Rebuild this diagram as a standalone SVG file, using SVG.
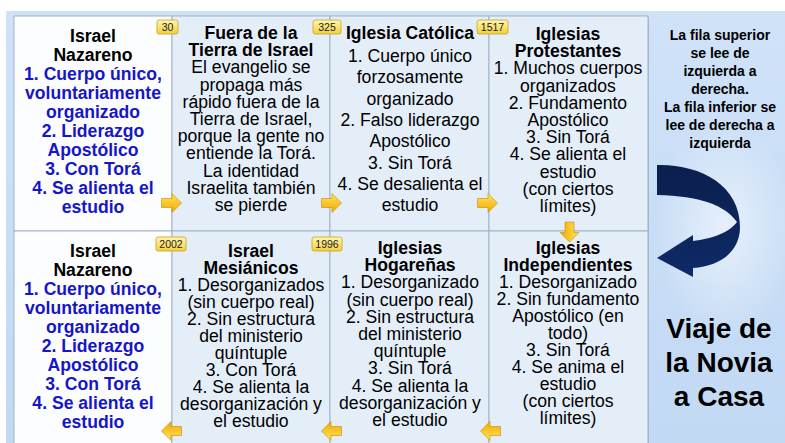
<svg xmlns="http://www.w3.org/2000/svg" width="785" height="443" viewBox="0 0 785 443">
<style>
  text { font-family: "Liberation Sans", Arial, sans-serif; text-anchor: middle; }
  .b { font-weight: bold; font-size: 17.6px; fill: #000; }
  .r { font-size: 17.6px; fill: #000; }
  .blue { font-weight: bold; font-size: 17.6px; fill: #1616c8; }
  .note { font-weight: bold; font-size: 14px; fill: #000; }
  .big { font-weight: bold; font-size: 28px; fill: #000; }
  .badge rect { fill: url(#gBadge); stroke: #c9a21a; stroke-width: 0.8; }
  .badge text { font-size: 10.5px; fill: #222; }
  .cellW { fill: #fcfdfe; stroke: #9fb1c6; stroke-width: 1; }
  .cellB { fill: #e4eef9; stroke: #9fb1c6; stroke-width: 1; }
  .arr { fill: url(#gArr); stroke: #c98c00; stroke-width: 0.6; }
</style>
<defs>
  <linearGradient id="gBg" x1="0" y1="0" x2="0" y2="1">
    <stop offset="0" stop-color="#cfe2f8"/>
    <stop offset="1" stop-color="#c2d9f4"/>
  </linearGradient>
  <radialGradient id="gGlow" cx="0.5" cy="0.5" r="0.5">
    <stop offset="0" stop-color="#ffffff" stop-opacity="0.55"/>
    <stop offset="1" stop-color="#ffffff" stop-opacity="0"/>
  </radialGradient>
  <linearGradient id="gBadge" x1="0" y1="0" x2="0" y2="1">
    <stop offset="0" stop-color="#fff7b0"/>
    <stop offset="1" stop-color="#f4cf3c"/>
  </linearGradient>
  <linearGradient id="gArr" x1="0" y1="0" x2="0" y2="1">
    <stop offset="0" stop-color="#ffe45a"/>
    <stop offset="1" stop-color="#f2a900"/>
  </linearGradient>
  <linearGradient id="gNavy" x1="0" y1="0" x2="0" y2="1">
    <stop offset="0" stop-color="#0b1f4c"/>
    <stop offset="1" stop-color="#0e2a68"/>
  </linearGradient>
  <path id="arR" class="arr" d="M -10 -4.5 H 0.5 V -9.5 L 10 0 L 0.5 9.5 V 4.5 H -10 Z"/>
</defs>

<!-- background -->
<rect x="0" y="0" width="785" height="443" fill="#ffffff"/>
<rect x="6" y="11" width="779" height="432" fill="url(#gBg)"/>
<ellipse cx="725" cy="230" rx="70" ry="110" fill="url(#gGlow)"/>
<rect x="15" y="17" width="634" height="430" fill="#a8bbd2"/>

<!-- top row cells -->
<g id="cell-top-1">
  <rect class="cellW" x="14" y="16" width="158" height="215"/>
  <text class="b" x="93" y="42">Israel</text>
  <text class="b" x="93" y="61">Nazareno</text>
  <text class="blue" x="93" y="80">1. Cuerpo único,</text>
  <text class="blue" x="93" y="99">voluntariamente</text>
  <text class="blue" x="93" y="118">organizado</text>
  <text class="blue" x="93" y="137">2. Liderazgo</text>
  <text class="blue" x="93" y="156">Apostólico</text>
  <text class="blue" x="93" y="175">3. Con Torá</text>
  <text class="blue" x="93" y="194">4. Se alienta el</text>
  <text class="blue" x="93" y="213">estudio</text>
</g>
<g id="cell-top-2">
  <rect class="cellB" x="172" y="16" width="158" height="215"/>
  <text class="b" x="251" y="39">Fuera de la</text>
  <text class="b" x="251" y="56.2">Tierra de Israel</text>
  <text class="r" x="251" y="73.4">El evangelio se</text>
  <text class="r" x="251" y="90.6">propaga más</text>
  <text class="r" x="251" y="107.8">rápido fuera de la</text>
  <text class="r" x="251" y="125">Tierra de Israel,</text>
  <text class="r" x="251" y="142.2">porque la gente no</text>
  <text class="r" x="251" y="159.4">entiende la Torá.</text>
  <text class="r" x="251" y="176.6">La identidad</text>
  <text class="r" x="251" y="193.8">Israelita también</text>
  <text class="r" x="251" y="211">se pierde</text>
</g>
<g id="cell-top-3">
  <rect class="cellB" x="330" y="16" width="159" height="215"/>
  <text class="b" x="410" y="39">Iglesia Católica</text>
  <text class="r" x="410" y="62">1. Cuerpo único</text>
  <text class="r" x="410" y="83.3">forzosamente</text>
  <text class="r" x="410" y="104.6">organizado</text>
  <text class="r" x="410" y="126">2. Falso liderazgo</text>
  <text class="r" x="410" y="147.2">Apostólico</text>
  <text class="r" x="410" y="168.5">3. Sin Torá</text>
  <text class="r" x="410" y="189.8">4. Se desalienta el</text>
  <text class="r" x="410" y="211">estudio</text>
</g>
<g id="cell-top-4">
  <rect class="cellB" x="489" y="16" width="159" height="215"/>
  <text class="b" x="568" y="40">Iglesias</text>
  <text class="b" x="568" y="57.2">Protestantes</text>
  <text class="r" x="568" y="74.4">1. Muchos cuerpos</text>
  <text class="r" x="568" y="91.6">organizados</text>
  <text class="r" x="568" y="108.8">2. Fundamento</text>
  <text class="r" x="568" y="126">Apostólico</text>
  <text class="r" x="568" y="143.2">3. Sin Torá</text>
  <text class="r" x="568" y="160.4">4. Se alienta el</text>
  <text class="r" x="568" y="177.6">estudio</text>
  <text class="r" x="568" y="194.8">(con ciertos</text>
  <text class="r" x="568" y="212">límites)</text>
</g>

<!-- bottom row cells -->
<g id="cell-bot-1">
  <rect class="cellW" x="14" y="231" width="158" height="220"/>
  <text class="b" x="93" y="257">Israel</text>
  <text class="b" x="93" y="276">Nazareno</text>
  <text class="blue" x="93" y="295">1. Cuerpo único,</text>
  <text class="blue" x="93" y="314">voluntariamente</text>
  <text class="blue" x="93" y="333">organizado</text>
  <text class="blue" x="93" y="352">2. Liderazgo</text>
  <text class="blue" x="93" y="371">Apostólico</text>
  <text class="blue" x="93" y="390">3. Con Torá</text>
  <text class="blue" x="93" y="409">4. Se alienta el</text>
  <text class="blue" x="93" y="428">estudio</text>
</g>
<g id="cell-bot-2">
  <rect class="cellB" x="172" y="231" width="158" height="220"/>
  <text class="b" x="251" y="257">Israel</text>
  <text class="b" x="251" y="274">Mesiánicos</text>
  <text class="r" x="251" y="291">1. Desorganizados</text>
  <text class="r" x="251" y="308">(sin cuerpo real)</text>
  <text class="r" x="251" y="325">2. Sin estructura</text>
  <text class="r" x="251" y="342">del ministerio</text>
  <text class="r" x="251" y="359">quíntuple</text>
  <text class="r" x="251" y="376">3. Con Torá</text>
  <text class="r" x="251" y="393">4. Se alienta la</text>
  <text class="r" x="251" y="410">desorganización y</text>
  <text class="r" x="251" y="427">el estudio</text>
</g>
<g id="cell-bot-3">
  <rect class="cellB" x="330" y="231" width="159" height="220"/>
  <text class="b" x="410" y="254">Iglesias</text>
  <text class="b" x="410" y="271.2">Hogareñas</text>
  <text class="r" x="410" y="288.4">1.  Desorganizado</text>
  <text class="r" x="410" y="305.6">(sin cuerpo real)</text>
  <text class="r" x="410" y="322.8">2. Sin estructura</text>
  <text class="r" x="410" y="340">del ministerio</text>
  <text class="r" x="410" y="357.2">quíntuple</text>
  <text class="r" x="410" y="374.4">3. Sin Torá</text>
  <text class="r" x="410" y="391.6">4. Se alienta la</text>
  <text class="r" x="410" y="408.8">desorganización y</text>
  <text class="r" x="410" y="426">el estudio</text>
</g>
<g id="cell-bot-4">
  <rect class="cellB" x="489" y="231" width="159" height="220"/>
  <text class="b" x="568" y="254">Iglesias</text>
  <text class="b" x="568" y="271">Independientes</text>
  <text class="r" x="568" y="288">1. Desorganizado</text>
  <text class="r" x="568" y="305">2. Sin fundamento</text>
  <text class="r" x="568" y="322">Apostólico (en</text>
  <text class="r" x="568" y="339">todo)</text>
  <text class="r" x="568" y="356">3. Sin Torá</text>
  <text class="r" x="568" y="373">4. Se anima el</text>
  <text class="r" x="568" y="390">estudio</text>
  <text class="r" x="568" y="407">(con ciertos</text>
  <text class="r" x="568" y="424">límites)</text>
</g>

<!-- year badges -->
<g id="badge-30" class="badge"><rect x="157" y="20" width="21" height="14" rx="2"/><text x="167.5" y="31">30</text></g>
<g id="badge-325" class="badge"><rect x="313" y="20" width="28" height="14" rx="2"/><text x="327" y="31">325</text></g>
<g id="badge-1517" class="badge"><rect x="477" y="20" width="31" height="14" rx="2"/><text x="492.5" y="31">1517</text></g>
<g id="badge-2002" class="badge"><rect x="156" y="237" width="30" height="14" rx="2"/><text x="171" y="248">2002</text></g>
<g id="badge-1996" class="badge"><rect x="312" y="237" width="30" height="14" rx="2"/><text x="327" y="248">1996</text></g>

<!-- connectors -->
<g id="connectors">
  <use href="#arR" transform="translate(171.5 203)"/>
  <use href="#arR" transform="translate(331.5 203)"/>
  <use href="#arR" transform="translate(487.5 203)"/>
  <use href="#arR" transform="translate(569.5 232) rotate(90)"/>
  <use href="#arR" transform="translate(171.5 431) rotate(180)"/>
  <use href="#arR" transform="translate(331.5 431) rotate(180)"/>
  <use href="#arR" transform="translate(490.5 431) rotate(180)"/>
</g>

<!-- right panel -->
<g id="reading-note">
  <text class="note" x="720" y="40">La fila superior</text>
  <text class="note" x="720" y="58">se lee de</text>
  <text class="note" x="720" y="76">izquierda a</text>
  <text class="note" x="720" y="94">derecha.</text>
  <text class="note" x="720" y="112">La fila inferior se</text>
  <text class="note" x="720" y="130">lee de derecha a</text>
  <text class="note" x="720" y="148">izquierda</text>
</g>
<g id="curved-arrow">
  <path d="M 657 165 C 700 164, 740 185, 740 227 C 740 252, 720 266, 693 268 L 693 277 L 657 258 L 693 235 L 693 241 C 712 239, 730 232, 737 222 C 725 205, 700 196, 657 195 Z" fill="url(#gNavy)"/>
</g>
<g id="title">
  <text class="big" x="719" y="338">Viaje de</text>
  <text class="big" x="719" y="372">la Novia</text>
  <text class="big" x="719" y="406">a Casa</text>
</g>
</svg>
